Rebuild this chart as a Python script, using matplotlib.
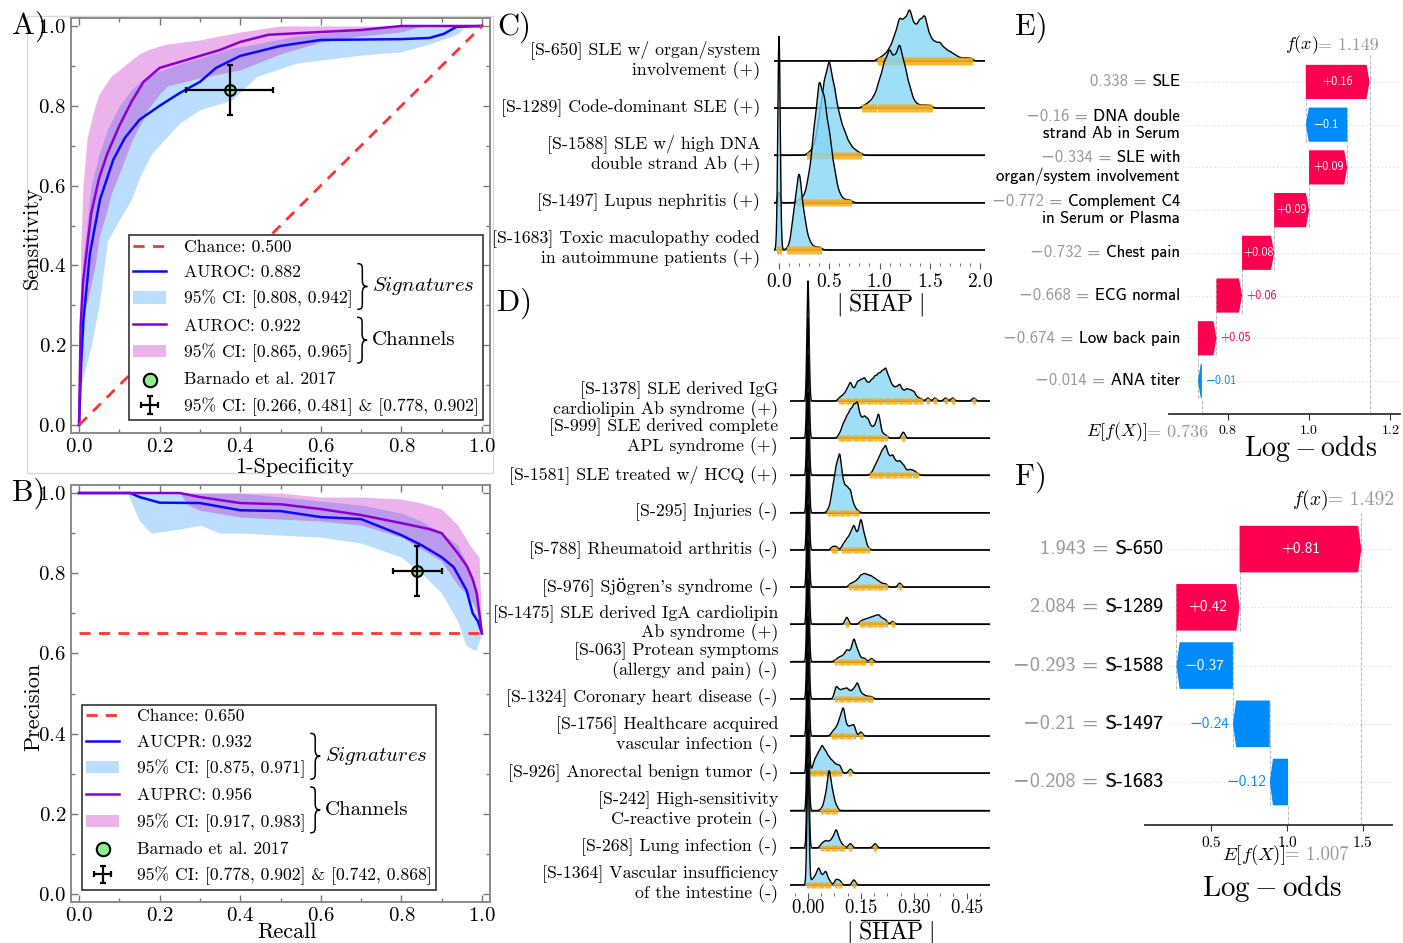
import numpy as np
import matplotlib
matplotlib.use("Agg")
import matplotlib.pyplot as plt
import matplotlib.transforms as mtransforms
from matplotlib.patches import Polygon, Rectangle, PathPatch
from matplotlib.path import Path
from matplotlib.lines import Line2D
from matplotlib.ticker import AutoMinorLocator

plt.rcParams['font.family'] = ['cmr10', 'DejaVu Serif']
plt.rcParams['mathtext.fontset'] = 'cm'
plt.rcParams['axes.formatter.use_mathtext'] = True

SANS = ['cmss10', 'DejaVu Sans']
W, H = 1403, 943

# ---------------- A) ROC ----------------
roc_chance = 0.500
roc_sig_fpr = [0, 0.005, 0.011, 0.027, 0.052, 0.085, 0.114, 0.15, 0.2, 0.25, 0.3, 0.34, 0.4, 0.5, 0.6, 0.8, 0.87, 0.905, 0.937, 1.0]
roc_sig_tpr = [0, 0.15, 0.265, 0.43, 0.565, 0.665, 0.72, 0.765, 0.80, 0.832, 0.86, 0.895, 0.925, 0.95, 0.965, 0.967, 0.97, 0.98, 0.998, 1.0]
roc_sig_band_fpr = [0, 0.005, 0.01, 0.03, 0.05, 0.07, 0.1, 0.13, 0.15, 0.18, 0.25, 0.3, 0.38, 0.44, 0.54, 0.7, 0.8, 0.87, 0.94, 0.96, 1.0]
roc_sig_band_lo = [0, 0.1, 0.12, 0.2, 0.3, 0.46, 0.515, 0.565, 0.62, 0.68, 0.757, 0.79, 0.815, 0.873, 0.907, 0.927, 0.935, 0.955, 0.98, 1.0, 1.0]
roc_sig_band_hi = [0, 0.28, 0.42, 0.6, 0.68, 0.74, 0.8, 0.84, 0.86, 0.88, 0.905, 0.92, 0.945, 0.955, 0.975, 0.99, 1.0, 1.0, 1.0, 1.0, 1.0]
roc_ch_fpr = [0, 0.004, 0.01, 0.03, 0.05, 0.07, 0.1, 0.13, 0.16, 0.2, 0.25, 0.3, 0.35, 0.4, 0.47, 0.6, 0.7, 0.8, 1.0]
roc_ch_tpr = [0, 0.25, 0.36, 0.53, 0.62, 0.68, 0.75, 0.81, 0.86, 0.895, 0.91, 0.925, 0.94, 0.96, 0.978, 0.985, 0.99, 1.0, 1.0]
roc_ch_band_fpr = [0, 0.004, 0.01, 0.02, 0.04, 0.05, 0.07, 0.08, 0.1, 0.13, 0.15, 0.17, 0.2, 0.22, 0.3, 0.4, 0.5, 0.6, 0.7, 0.8, 0.85, 1.0]
roc_ch_band_lo = [0, 0.2, 0.27, 0.31, 0.4, 0.47, 0.54, 0.58, 0.63, 0.71, 0.75, 0.79, 0.83, 0.85, 0.87, 0.89, 0.93, 0.96, 0.975, 0.985, 1.0, 1.0]
roc_ch_band_hi = [0, 0.45, 0.6, 0.72, 0.8, 0.83, 0.86, 0.875, 0.89, 0.915, 0.93, 0.94, 0.95, 0.955, 0.965, 0.985, 1.0, 1.0, 1.0, 1.0, 1.0, 1.0]
roc_point = (0.375, 0.84)
roc_point_xci = (0.266, 0.481)
roc_point_yci = (0.778, 0.902)
roc_labels = ['Chance: 0.500', 'AUROC: 0.882', '95% CI: [0.808, 0.942]', 'AUROC: 0.922',
              '95% CI: [0.865, 0.965]', 'Barnado et al. 2017', '95% CI: [0.266, 0.481] & [0.778, 0.902]']

# ---------------- B) PR ----------------
pr_chance = 0.650
pr_sig_rec = [0, 0.127, 0.15, 0.2, 0.3, 0.4, 0.5, 0.6, 0.7, 0.75, 0.8, 0.85, 0.9, 0.93, 0.962, 0.977, 0.99, 1.0]
pr_sig_prec = [1, 1, 0.99, 0.976, 0.975, 0.957, 0.955, 0.94, 0.935, 0.915, 0.895, 0.87, 0.84, 0.815, 0.757, 0.70, 0.68, 0.65]
pr_sig_band_rec = [0, 0.12, 0.15, 0.18, 0.25, 0.3, 0.35, 0.4, 0.5, 0.6, 0.7, 0.8, 0.85, 0.9, 0.94, 0.96, 0.985, 1.0]
pr_sig_band_lo = [1, 1, 0.93, 0.9, 0.91, 0.92, 0.9, 0.9, 0.895, 0.89, 0.875, 0.84, 0.8, 0.75, 0.68, 0.62, 0.607, 0.65]
pr_sig_band_hi = [1, 1, 1, 1, 1, 1, 1, 1, 0.99, 0.98, 0.97, 0.95, 0.93, 0.9, 0.87, 0.83, 0.76, 0.65]
pr_ch_rec = [0, 0.25, 0.3, 0.4, 0.5, 0.6, 0.7, 0.8, 0.87, 0.9, 0.94, 0.963, 0.977, 0.987, 1.0]
pr_ch_prec = [1, 1, 0.99, 0.975, 0.972, 0.96, 0.945, 0.925, 0.91, 0.9, 0.85, 0.817, 0.785, 0.75, 0.65]
pr_ch_band_rec = [0, 0.25, 0.27, 0.3, 0.4, 0.5, 0.6, 0.7, 0.8, 0.85, 0.9, 0.94, 0.97, 0.985, 0.993, 1.0]
pr_ch_band_lo = [1, 1, 0.97, 0.957, 0.94, 0.935, 0.93, 0.92, 0.89, 0.86, 0.83, 0.77, 0.74, 0.71, 0.69, 0.65]
pr_ch_band_hi = [1, 1, 1, 1, 1, 1, 0.99, 0.99, 0.985, 0.975, 0.96, 0.92, 0.87, 0.85, 0.84, 0.65]
pr_point = (0.84, 0.805)
pr_point_xci = (0.778, 0.902)
pr_point_yci = (0.742, 0.868)
pr_labels = ['Chance: 0.650', 'AUCPR: 0.932', '95% CI: [0.875, 0.971]', 'AUPRC: 0.956',
             '95% CI: [0.917, 0.983]', 'Barnado et al. 2017', '95% CI: [0.778, 0.902] & [0.742, 0.868]']
group_names = [r'$\mathit{Signatures}$', 'Channels']

# ---------------- C) top-5 signatures, |SHAP| counts per 0.05 bin ----------------
c_labels = ['[S-650] SLE w/ organ/system\ninvolvement (+)',
            '[S-1289] Code-dominant SLE (+)',
            '[S-1588] SLE w/ high DNA\ndouble strand Ab (+)',
            '[S-1497] Lupus nephritis (+)',
            '[S-1683] Toxic maculopathy coded\nin autoimmune patients (+)']
c_bin = 0.05
c_counts = [
    [0, 0, 0, 0, 0, 0, 0, 0, 0, 0, 0, 0, 0, 0, 0, 0, 0, 0, 0, 0,
     1, 2, 4, 8, 14, 13, 17, 11, 13, 15, 8, 6, 6, 4, 3, 2, 1, 1, 1],
    [0, 0, 0, 0, 0, 0, 0, 0, 0, 0, 0, 0, 0, 0, 0, 0, 0, 1, 2, 4,
     9, 15, 19, 16, 21, 14, 7, 2, 1, 1, 1],
    [0, 0, 0, 0, 0, 0, 1, 3, 12, 24, 31, 22, 13, 8, 4, 2, 1],
    [0, 0, 0, 0, 1, 2, 9, 24, 40, 34, 23, 11, 3, 1, 1],
    [0, 0, 1, 13, 27, 11, 3, 1, 1],
]
c_zero_counts = [0, 0, 0, 2, 41]

# ---------------- D) next signatures, |SHAP| counts per 0.01 bin ----------------
d_labels = ['[S-1378] SLE derived IgG\ncardiolipin Ab syndrome (+)',
            '[S-999] SLE derived complete\nAPL syndrome (+)',
            '[S-1581] SLE treated w/ HCQ (+)',
            '[S-295] Injuries (-)',
            '[S-788] Rheumatoid arthritis (-)',
            "[S-976] Sjögren's syndrome (-)",
            '[S-1475] SLE derived IgA cardiolipin\nAb syndrome (+)',
            '[S-063] Protean symptoms\n(allergy and pain) (-)',
            '[S-1324] Coronary heart disease (-)',
            '[S-1756] Healthcare acquired\nvascular infection (-)',
            '[S-926] Anorectal benign tumor (-)',
            '[S-242] High-sensitivity\nC-reactive protein (-)',
            '[S-268] Lung infection (-)',
            '[S-1364] Vascular insufficiency\nof the intestine (-)']
d_bin = 0.01
d_counts = [
    [0, 0, 0, 0, 0, 0, 0, 0, 0, 3, 5, 9, 16, 9, 16, 17, 19, 14, 17, 20,
     22, 24, 27, 19, 12, 11, 14, 8, 10, 9, 8, 3, 2, 0, 3, 0, 3, 0, 0, 3, 0, 3, 0, 0, 0, 0, 0, 3],
    [0, 0, 0, 0, 0, 0, 0, 0, 0, 4, 12, 18, 23, 27, 30, 16, 18, 16, 9, 10, 22, 4, 3, 0, 0, 0, 0, 6],
    [0, 0, 0, 0, 0, 0, 0, 0, 0, 0, 0, 0, 0, 0, 0, 0, 0, 0, 2, 8,
     14, 20, 25, 15, 17, 11, 12, 9, 4, 5, 4, 2],
    [0, 0, 0, 0, 0, 0, 4, 20, 38, 50, 24, 21, 19, 6, 2],
    [0, 0, 0, 0, 0, 0, 0, 3, 3, 0, 5, 9, 13, 21, 12, 27, 12, 2],
    [0, 0, 0, 0, 0, 0, 0, 0, 0, 0, 0, 0, 3, 4, 6, 10, 11, 10, 9, 7, 5, 3, 3, 0, 0, 0, 4],
    [0, 0, 0, 0, 0, 0, 0, 0, 0, 0, 0, 7, 0, 0, 0, 3, 4, 5, 6, 7, 8, 5, 4, 0, 3],
    [0, 0, 0, 0, 0, 0, 0, 0, 2, 4, 5, 10, 8, 20, 10, 3, 3, 0, 3],
    [0, 0, 0, 0, 0, 0, 0, 0, 11, 7, 8, 9, 6, 8, 14, 5, 3, 2, 2],
    [0, 0, 0, 0, 0, 0, 0, 4, 7, 14, 25, 8, 8, 10, 0, 4],
    [0, 3, 12, 17, 23, 18, 13, 10, 7, 7, 0, 0, 4],
    [0, 0, 0, 0, 2, 12, 36, 15, 4],
    [0, 0, 0, 0, 4, 6, 5, 8, 16, 6, 2, 0, 4, 0, 0, 0, 0, 0, 0, 4],
    [0, 4, 7, 15, 7, 12, 4, 0, 5, 4, 0, 0, 0, 5],
]
d_zero_counts = [72, 72, 72, 72, 72, 72, 72, 72, 72, 72, 72, 72, 72, 72]

# ---------------- E) / F) waterfalls (bottom row first) ----------------
e_names = ['ANA titer', 'Low back pain', 'ECG normal', 'Chest pain',
           'Complement C4\nin Serum or Plasma', 'SLE with\norgan/system involvement',
           'DNA double\nstrand Ab in Serum', 'SLE']
e_feature_values = [-0.014, -0.674, -0.668, -0.732, -0.772, -0.334, -0.16, 0.338]
e_shap = [-0.010, 0.046, 0.063, 0.079, 0.086, 0.094, -0.102, 0.157]
e_base = 0.736

f_names = ['S-1683', 'S-1497', 'S-1588', 'S-1289', 'S-650']
f_feature_values = [-0.208, -0.21, -0.293, 2.084, 1.943]
f_shap = [-0.121, -0.244, -0.374, 0.418, 0.806]
f_base = 1.007

RED = '#ff0051'
BLUE = '#008bfb'
RIDGE = '#86d6f5'

fig = plt.figure(figsize=(W / 100, H / 100), dpi=100)


def px_axes(left, top, right, bottom):
    ax = fig.add_axes([left / W, 1 - bottom / H, (right - left) / W, (bottom - top) / H])
    ax.patch.set_visible(False)
    return ax


def ftext(x, y, s, **kw):
    return fig.text(x / W, 1 - y / H, s, **kw)


def fline(xs, ys, **kw):
    fig.add_artist(Line2D([x / W for x in xs], [1 - y / H for y in ys],
                          transform=fig.transFigure, **kw))


def shap_label(xc, baseline, half_w, over_y):
    # |SHAP| with a bar over the word
    ftext(xc, baseline, r'$|\;\mathrm{SHAP}\;|$', ha='center', va='baseline', fontsize=17)
    fline([xc - half_w, xc + half_w], [over_y, over_y], color='black', lw=0.9)


def brace(x0, top, bottom, width=10):
    ym = (top + bottom) / 2
    xm = x0 + width / 2
    q = 7
    pts = [(x0, top), (xm, top), (xm, top + 0.3 * q), (xm, top + q),
           (xm, ym - q),
           (xm, ym - 0.3 * q), (xm + 1, ym), (x0 + width, ym),
           (xm + 1, ym), (xm, ym + 0.3 * q), (xm, ym + q),
           (xm, bottom - q),
           (xm, bottom - 0.3 * q), (xm, bottom), (x0, bottom)]
    codes = [Path.MOVETO, Path.CURVE4, Path.CURVE4, Path.CURVE4, Path.LINETO,
             Path.CURVE4, Path.CURVE4, Path.CURVE4, Path.CURVE4, Path.CURVE4, Path.CURVE4,
             Path.LINETO, Path.CURVE4, Path.CURVE4, Path.CURVE4]
    verts = [(x / W, 1 - y / H) for x, y in pts]
    fig.add_artist(PathPatch(Path(verts, codes), transform=fig.transFigure,
                             fill=False, ec='black', lw=1.1))


def perf_panel(ax, chance_xy, sig, sig_band, ch, ch_band, point, xci, yci, labels, loc, anchor):
    h_sb = ax.fill_between(*sig_band, color='#1e90ff', alpha=0.3, lw=0)
    h_cb = ax.fill_between(*ch_band, color='#c000c0', alpha=0.3, lw=0)
    h_s, = ax.plot(*sig, color='#0a0aff', lw=1.8)
    h_c, = ax.plot(*ch, color='#8a00d4', lw=1.8)
    h_ch, = ax.plot(*chance_xy, color='#ff3333', lw=2, ls=(0, (4, 3)))
    h_pt = ax.scatter([point[0]], [point[1]], s=60, c='#90ee90', edgecolors='black',
                      linewidths=1.5, zorder=6)
    h_eb = ax.errorbar(point[0], point[1],
                       xerr=[[point[0] - xci[0]], [xci[1] - point[0]]],
                       yerr=[[point[1] - yci[0]], [yci[1] - point[1]]],
                       fmt='none', ecolor='black', elinewidth=1.6, capsize=2.5, capthick=1.6, zorder=7)
    leg = ax.legend([h_ch, h_s, h_sb, h_c, h_cb, h_pt, h_eb], labels, loc=loc,
                    bbox_to_anchor=anchor, fontsize=12.7, labelspacing=0.56, handlelength=1.85,
                    handletextpad=1.0, borderpad=0.25, borderaxespad=0, fancybox=False,
                    framealpha=1, markerscale=1.25)
    leg.get_frame().set_edgecolor('#333333')
    leg.get_frame().set_linewidth(1.2)
    ax.set_xlim(-0.02, 1.02)
    ax.set_ylim(-0.02, 1.02)
    ticks = [0, 0.2, 0.4, 0.6, 0.8, 1.0]
    ax.set_xticks(ticks)
    ax.set_yticks(ticks)
    ax.xaxis.set_minor_locator(AutoMinorLocator(2))
    ax.yaxis.set_minor_locator(AutoMinorLocator(2))
    ax.tick_params(which='both', direction='in', top=True, right=True, color='#777777',
                   labelsize=15, width=1)
    ax.tick_params(which='major', length=5)
    ax.tick_params(which='minor', length=3)
    for sp in ax.spines.values():
        sp.set_color('#8a8a8a')
        sp.set_linewidth(1.4)
    return leg


def group_braces(leg):
    # brace + group name to the right of each (line, CI) pair of legend entries
    fig.canvas.draw()
    texts = leg.get_texts()
    for (a, b), name in zip([(1, 2), (3, 4)], group_names):
        bb = mtransforms.Bbox.union([texts[a].get_window_extent(), texts[b].get_window_extent()])
        x0 = bb.x1 + 5
        top, bottom = H - bb.y1 - 1, H - bb.y0 + 1
        brace(x0, top, bottom)
        ftext(x0 + 15, (top + bottom) / 2, name, ha='left', va='center', fontsize=15)


# A
axA = px_axes(71, 18, 490, 433)
axA.patch.set_visible(True)
legA = perf_panel(axA, ([0, 1], [0, 1]),
                  (roc_sig_fpr, roc_sig_tpr), (roc_sig_band_fpr, roc_sig_band_lo, roc_sig_band_hi),
                  (roc_ch_fpr, roc_ch_tpr), (roc_ch_band_fpr, roc_ch_band_lo, roc_ch_band_hi),
                  roc_point, roc_point_xci, roc_point_yci, roc_labels, 'lower right', (0.983, 0.031))
ftext(294, 467, '1-Specificity', ha='center', va='center', fontsize=16)
ftext(32, 238, 'Sensitivity', ha='center', va='center', rotation=90, fontsize=16)
fig.add_artist(Rectangle((27 / W, 1 - 473 / H), (493 - 27) / W, (473 - 16) / H,
                         transform=fig.transFigure, fill=False, ec='#d8d8d8', lw=1, zorder=-1))

# B
axB = px_axes(71, 485, 490, 902)
axB.patch.set_visible(True)
legB = perf_panel(axB, ([0, 1], [pr_chance, pr_chance]),
                  (pr_sig_rec, pr_sig_prec), (pr_sig_band_rec, pr_sig_band_lo, pr_sig_band_hi),
                  (pr_ch_rec, pr_ch_prec), (pr_ch_band_rec, pr_ch_band_lo, pr_ch_band_hi),
                  pr_point, pr_point_xci, pr_point_yci, pr_labels, 'lower left', (0.026, 0.029))
ftext(287, 932, 'Recall', ha='center', va='center', fontsize=16)
ftext(34, 707, 'Precision', ha='center', va='center', rotation=90, fontsize=16)


def draw_ridges(ax, labels, counts, zeros, bin_w, bw, zero_bw, unit, grid, rug_lw, label_x, fs, lsp):
    n = len(labels)
    blend = mtransforms.blended_transform_factory(ax.transAxes, ax.transData)
    for i, (lab, cts, nz) in enumerate(zip(labels, counts, zeros)):
        base = n - 1 - i
        z = 2 + 4 * i
        cts = np.asarray(cts, float)
        centers = np.arange(len(cts)) * bin_w
        dens = (cts[:, None] * np.exp(-0.5 * ((grid[None, :] - centers[:, None]) / bw) ** 2)).sum(0)
        dens += nz * (bw / zero_bw) * np.exp(-0.5 * (grid / zero_bw) ** 2)
        y = base + dens * unit
        ax.axhline(base, color='#333333', lw=1.2, zorder=z)
        ax.fill_between(grid, base, y, color=RIDGE, alpha=0.8, lw=0, zorder=z + 1)
        ax.plot(grid, y, color='black', lw=1.0, zorder=z + 2)
        rug_x = centers[cts > 0]
        if nz:
            rug_x = np.append(rug_x, 0.0)
        ax.vlines(rug_x, base - 0.08, base + 0.08, color='#ffa500', lw=rug_lw, alpha=0.8,
                  zorder=z + 3)
        ax.text(label_x, base + 0.02, lab, transform=blend, ha='right', va='center',
                fontsize=fs, linespacing=lsp)
    ax.set_yticks([])
    for sp in ax.spines.values():
        sp.set_visible(False)


# C
axC = px_axes(774, 5, 985, 263)
axC.set_xlim(-0.05, 2.05)
axC.set_ylim(-0.275, 5.18)
draw_ridges(axC, c_labels, c_counts, c_zero_counts, c_bin, 0.025, 0.012, 2.5 / 47.3,
            np.linspace(-0.05, 2.05, 2101), 3.6, -0.066, 12.8, 1.15)
axC.set_xticks([0, 0.5, 1.0, 1.5, 2.0])
axC.xaxis.set_minor_locator(AutoMinorLocator(5))
axC.tick_params(axis='x', which='both', direction='out', color='#555555', labelsize=14, pad=3)
axC.tick_params(axis='x', which='major', length=4)
axC.tick_params(axis='x', which='minor', length=2)
shap_label(880, 310, 29, 290)

# D
axD = px_axes(790, 272, 990, 893)
axD.set_xlim(-0.051, 0.516)
axD.set_ylim(-0.215, 13 + (401 - 272) / 37.23)
draw_ridges(axD, d_labels, d_counts, d_zero_counts, d_bin, 0.005, 0.003, 1.0 / 37.23,
            np.linspace(-0.051, 0.516, 2269), 2.5, -0.06, 12.8, 1.08)
axD.set_xticks([0, 0.15, 0.30, 0.45])
axD.xaxis.set_minor_locator(AutoMinorLocator(4))
axD.tick_params(axis='x', which='both', direction='out', color='#555555', labelsize=13.5, pad=0.5)
axD.tick_params(axis='x', which='major', length=4)
axD.tick_params(axis='x', which='minor', length=2)
shap_label(890, 938, 29, 920)


def fmt(v, f):
    s = f % v
    if '.' in s:
        s = s.rstrip('0').rstrip('.')
    return s.replace('-', '\u2212')


def waterfall(ax, base, shap_vals, feat_vals, names, label_x, line_xmin, name_fs, bar_fs):
    renderer = fig.canvas.get_renderer()
    n = len(shap_vals)
    sv = np.asarray(shap_vals, float)
    starts = base + np.concatenate([[0.0], np.cumsum(sv)[:-1]])
    ends = starts + sv
    fx = ends[-1]
    x0, x1 = ax.get_xlim()
    y0, y1 = ax.get_ylim()
    hl = 0.013 * (x1 - x0)
    bh = 0.4
    ppu = ax.transData.transform((1, 0))[0] - ax.transData.transform((0, 0))[0]
    pad = 4 / ppu
    blend = mtransforms.blended_transform_factory(ax.transAxes, ax.transData)
    ax.axvline(fx, 0, 1, color='#bbbbbb', ls='--', lw=0.7, zorder=0)
    ax.axvline(base, 0, (-bh - y0) / (y1 - y0), color='#bbbbbb', ls='--', lw=0.7, zorder=0)
    for i in range(n):
        s, e = starts[i], ends[i]
        d = e - s
        col = RED if d > 0 else BLUE
        head = min(abs(d), hl)
        neck = e - np.sign(d) * head
        ax.add_patch(Polygon([(s, i - bh), (neck, i - bh), (e, i), (neck, i + bh), (s, i + bh)],
                             closed=True, fc=col, ec='none', zorder=3))
        ax.axhline(i, xmin=line_xmin, color='#cccccc', lw=0.7, dashes=(1, 3), zorder=0)
        if i > 0:
            ax.plot([s, s], [i - 1 - bh, i + bh], color='#bbbbbb', ls='--', lw=0.7, zorder=0)
        lab = fmt(d, '%+0.02f')
        t = ax.text((s + e) / 2, i, lab, ha='center', va='center', color='white',
                    fontsize=bar_fs, family=SANS, zorder=4)
        tw = t.get_window_extent(renderer=renderer).width
        if tw > abs(d) * ppu:
            t.remove()
            if d > 0:
                ax.text(max(s, e) + pad, i, lab, ha='left', va='center', color=RED,
                        fontsize=bar_fs, family=SANS, zorder=4)
            elif min(s, e) - pad - tw / ppu > x0:
                ax.text(min(s, e) - pad, i, lab, ha='right', va='center', color=BLUE,
                        fontsize=bar_fs, family=SANS, zorder=4)
            else:
                ax.text(max(s, e) + pad, i, lab, ha='left', va='center', color=BLUE,
                        fontsize=bar_fs, family=SANS, zorder=4)
        v = fmt(feat_vals[i], '%0.03f')
        ax.text(label_x, i, v + ' = ' + names[i], transform=blend, ha='right', va='center',
                color='#999999', fontsize=name_fs, family=SANS, linespacing=1.15)
        ax.text(label_x, i, names[i], transform=blend, ha='right', va='center',
                color='black', fontsize=name_fs, family=SANS, linespacing=1.15)
    for side in ('top', 'left', 'right'):
        ax.spines[side].set_visible(False)
    ax.spines['bottom'].set_color('#333333')
    ax.spines['bottom'].set_linewidth(1.3)
    ax.set_yticks([])
    return fx


# E
axE = px_axes(1169, 55, 1400, 414)
axE.set_xlim(0.655, 1.224)
axE.set_ylim(-0.773, 7.63)
e_fx = waterfall(axE, e_base, e_shap, e_feature_values, e_names, 0.048, 0.078, 12, 8.6)
axE.set_xticks([0.8, 1.0, 1.2])
axE.tick_params(axis='x', direction='out', length=4, color='#333333', labelsize=10, pad=3)
ftext(1318, 45, r'$f(x)$', ha='right', va='center', fontsize=13)
ftext(1318, 45, '= %.3f' % e_fx, ha='left', va='center', fontsize=13, color='#999999')
ftext(1147, 432, r'$E[f(X)]$', ha='right', va='center', fontsize=13)
ftext(1147, 432, '= %.3f' % e_base, ha='left', va='center', fontsize=13, color='#999999')
ftext(1311, 449, r'$\mathrm{Log}-\mathrm{odds}$', ha='center', va='center', fontsize=20)

# F
axF = px_axes(1145, 513, 1392, 825)
axF.set_xlim(0.06, 1.695)
axF.set_ylim(-0.738, 4.62)
f_fx = waterfall(axF, f_base, f_shap, f_feature_values, f_names, 0.073, 0.097, 14.5, 11)
axF.set_xticks([0.5, 1.0, 1.5])
axF.tick_params(axis='x', direction='out', length=4, color='#333333', labelsize=11, pad=3)
ftext(1328, 500, r'$f(x)$', ha='right', va='center', fontsize=14)
ftext(1328, 500, '= %.3f' % f_fx, ha='left', va='center', fontsize=14, color='#999999')
ftext(1285, 855, r'$E[f(X)]$', ha='right', va='center', fontsize=13.5)
ftext(1285, 855, '= %.3f' % f_base, ha='left', va='center', fontsize=13.5, color='#999999')
ftext(1272, 888, r'$\mathrm{Log}-\mathrm{odds}$', ha='center', va='center', fontsize=21)

# panel letters
for letter, x, y in [('A)', 12, 26), ('B)', 12, 493), ('C)', 497, 27),
                     ('D)', 497, 303), ('E)', 1015, 27), ('F)', 1015, 477)]:
    ftext(x, y, letter, ha='left', va='center', fontsize=22)

group_braces(legA)
group_braces(legB)

fig.savefig('out.png', dpi=100)
